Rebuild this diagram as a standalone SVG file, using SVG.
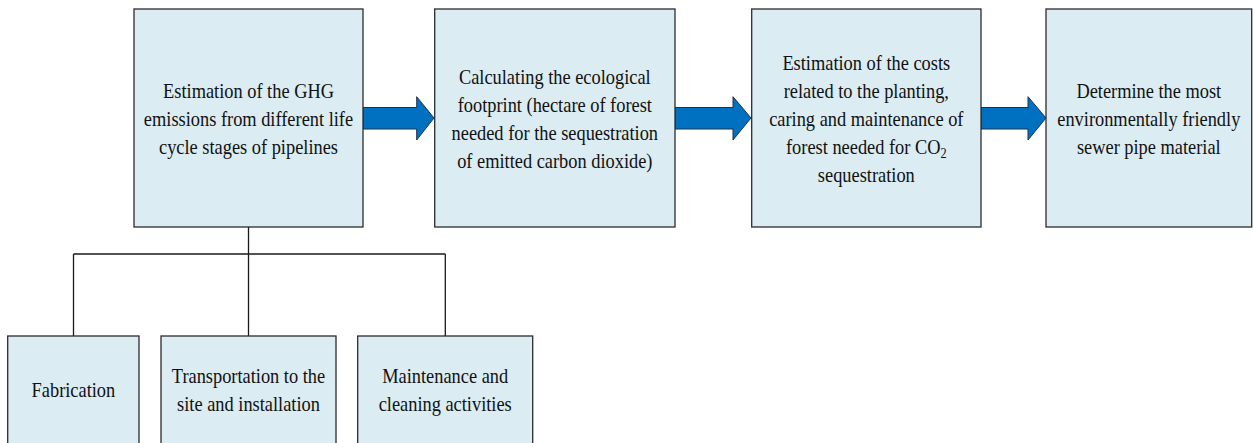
<svg xmlns="http://www.w3.org/2000/svg" width="1253" height="443" viewBox="0 0 1253 443">
<style>
.box{fill:#DBECF2;stroke:#2b2b2b;stroke-width:1.3}
.lbl{font-size:21px;fill:#111111;text-anchor:middle}
.con{fill:none;stroke:#1a1a1a;stroke-width:1.3}
.arr{fill:#0070C0;stroke:#1F3050;stroke-width:1}
</style>
<rect width="1253" height="443" fill="#ffffff"/>
<g id="connectors">
<path class="con" d="M248.5 227 V336 M73.5 254 H445.3 M73.5 254 V336 M445.3 254 V336"/>
<polygon class="arr" points="363,107.5 416.7,107.5 416.7,96.7 434,118 416.7,140 416.7,129 363,129"/>
<polygon class="arr" points="675,107.5 733,107.5 733,96.7 751,118 733,140 733,129 675,129"/>
<polygon class="arr" points="981,107.5 1028,107.5 1028,96.7 1046,118 1028,140 1028,129 981,129"/>
</g>
<g font-family="Liberation Serif, Times New Roman, DejaVu Serif, serif">
<g id="node-ghg">
<rect class="box" x="134" y="9" width="229" height="218"/>
<text class="lbl" transform="translate(248.5 0) scale(0.875 1)"><tspan x="0" y="97.7">Estimation of the GHG</tspan><tspan x="0" y="125.7">emissions from different life</tspan><tspan x="0" y="153.7">cycle stages of pipelines</tspan></text>
</g>
<g id="node-footprint">
<rect class="box" x="434.7" y="9" width="240.3" height="218"/>
<text class="lbl" transform="translate(554.8 0) scale(0.875 1)"><tspan x="0" y="84">Calculating the ecological</tspan><tspan x="0" y="112">footprint (hectare of forest</tspan><tspan x="0" y="140">needed for the sequestration</tspan><tspan x="0" y="168">of emitted carbon dioxide)</tspan></text>
</g>
<g id="node-costs">
<rect class="box" x="751.7" y="9" width="229.3" height="218"/>
<text class="lbl" transform="translate(866.3 0) scale(0.875 1)"><tspan x="0" y="69.7">Estimation of the costs</tspan><tspan x="0" y="97.7">related to the planting,</tspan><tspan x="0" y="125.7">caring and maintenance of</tspan><tspan x="0" y="153.7">forest needed for CO<tspan font-size="14" dy="4">2</tspan></tspan><tspan x="0" y="181.7">sequestration</tspan></text>
</g>
<g id="node-material">
<rect class="box" x="1046" y="9" width="205.7" height="218"/>
<text class="lbl" transform="translate(1148.8 0) scale(0.875 1)"><tspan x="0" y="97.7">Determine the most</tspan><tspan x="0" y="125.7">environmentally friendly</tspan><tspan x="0" y="153.7">sewer pipe material</tspan></text>
</g>
<g id="node-fabrication">
<rect class="box" x="7.7" y="336" width="131.3" height="112"/>
<text class="lbl" transform="translate(73.4 0) scale(0.875 1)"><tspan x="0" y="397">Fabrication</tspan></text>
</g>
<g id="node-transport">
<rect class="box" x="161" y="336" width="175" height="112"/>
<text class="lbl" transform="translate(248.5 0) scale(0.875 1)"><tspan x="0" y="383.3">Transportation to the</tspan><tspan x="0" y="411.3">site and installation</tspan></text>
</g>
<g id="node-maintenance">
<rect class="box" x="357.7" y="336" width="175" height="112"/>
<text class="lbl" transform="translate(445.2 0) scale(0.875 1)"><tspan x="0" y="383.3">Maintenance and</tspan><tspan x="0" y="411.3">cleaning activities</tspan></text>
</g>
</g>
</svg>
